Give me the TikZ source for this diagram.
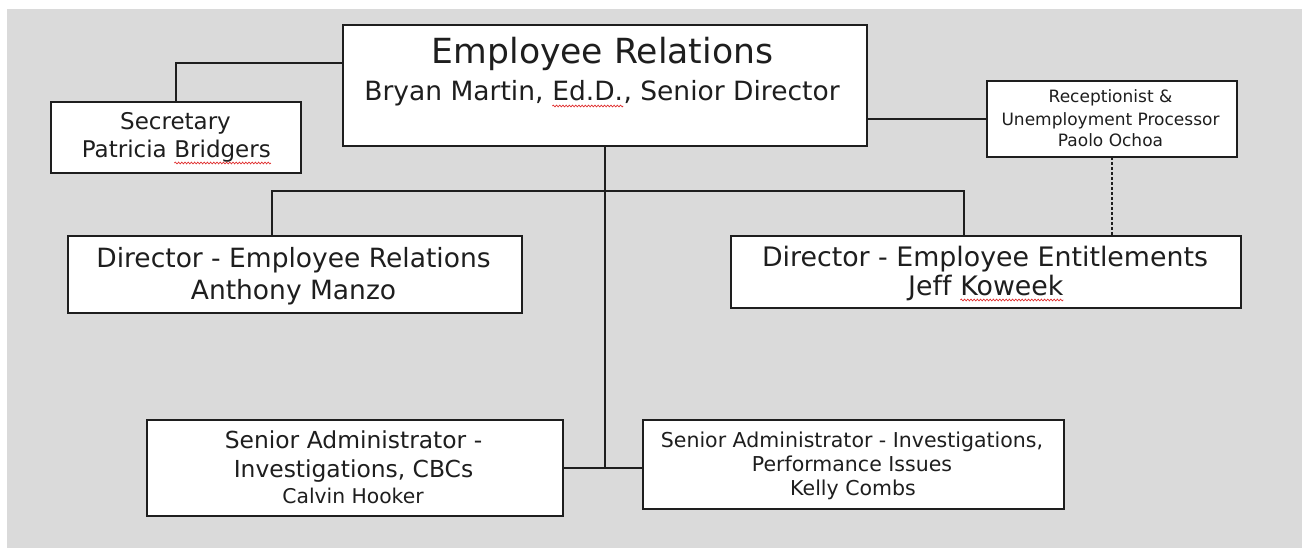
\documentclass[tikz,border=0pt]{standalone}
\usepackage{fontspec}
\setmainfont{DejaVu Sans}
\usetikzlibrary{decorations.pathmorphing}
\definecolor{bg}{HTML}{DADADA}
\definecolor{ink}{HTML}{1E1E1E}
\definecolor{spell}{HTML}{E03030}
\newcommand\spellmark[1]{\tikz[baseline=(sw.base)]{\node[inner sep=0pt,outer sep=0pt] (sw) {#1};\draw[spell,line width=0.7pt,decorate,decoration={snake,amplitude=0.9pt,segment length=3.2pt}] ([yshift=-5pt]sw.base west) -- ([yshift=-5pt]sw.base east);}}
\begin{document}
\begin{tikzpicture}[x=1pt,y=-1pt,
  box/.style={draw=ink,line width=1.8pt,fill=white,inner sep=0pt,outer sep=0pt},
  txt/.style={inner sep=0pt,outer sep=0pt,text=ink,anchor=base},
  wire/.style={draw=ink,line width=1.8pt},
  dotwire/.style={draw=ink,line width=1.3pt,dash pattern=on 3pt off 2pt}]
\useasboundingbox (0,0) rectangle (1302,548);
\fill[bg] (7,9) rectangle (1302,548);
% boxes
\node[box,minimum width=524pt,minimum height=121pt] (top) at (605,85.5) {};
\node[box,minimum width=250pt,minimum height=71pt] (sec) at (176,137.5) {};
\node[box,minimum width=250pt,minimum height=76pt] (rec) at (1112,119) {};
\node[box,minimum width=454pt,minimum height=77pt] (dER) at (295,274.5) {};
\node[box,minimum width=510pt,minimum height=72pt] (dEE) at (986,272) {};
\node[box,minimum width=416pt,minimum height=96pt] (cbc) at (355,468) {};
\node[box,minimum width=421pt,minimum height=89pt] (perf) at (853.5,464.5) {};
% texts
\node[txt,font=\fontsize{34.6}{40}\selectfont] (t1) at (602.5,64) {Employee Relations};
\node[txt,font=\fontsize{26.5}{30}\selectfont] (t2) at (602,101) {Bryan Martin, \spellmark{Ed.D.}, Senior Director};
\node[txt,font=\fontsize{23}{28}\selectfont] (s1) at (175.5,130) {Secretary};
\node[txt,font=\fontsize{23}{28}\selectfont] (s2) at (176.5,158) {Patricia \spellmark{Bridgers}};
\node[txt,font=\fontsize{17}{22}\selectfont] (r1) at (1110.5,103) {Receptionist \&};
\node[txt,font=\fontsize{17}{22}\selectfont] (r2) at (1110.5,126) {Unemployment Processor};
\node[txt,font=\fontsize{17}{22}\selectfont] (r3) at (1110.5,147) {Paolo Ochoa};
\node[txt,font=\fontsize{26.5}{30}\selectfont] (a1) at (293.5,268) {Director - Employee Relations};
\node[txt,font=\fontsize{26.5}{30}\selectfont] (a2) at (293.5,300) {Anthony Manzo};
\node[txt,font=\fontsize{26.8}{30}\selectfont] (b1) at (985,267) {Director - Employee Entitlements};
\node[txt,font=\fontsize{26.8}{30}\selectfont] (b2) at (986,295) {Jef\kern0pt f \spellmark{Koweek}};
\node[txt,font=\fontsize{23.4}{28}\selectfont] (c1) at (353.5,448) {Senior Administrator -};
\node[txt,font=\fontsize{23.4}{28}\selectfont] (c2) at (353.5,477) {Investigations, CBCs};
\node[txt,font=\fontsize{20.3}{24}\selectfont] (c3) at (353,503) {Calvin Hooker};
\node[txt,font=\fontsize{20.5}{25}\selectfont] (p1) at (852,447) {Senior Administrator - Investigations,};
\node[txt,font=\fontsize{20.5}{25}\selectfont] (p2) at (852,471) {Performance Issues};
\node[txt,font=\fontsize{20.5}{25}\selectfont] (p3) at (853,495) {Kelly Combs};
% connectors
\coordinate (busL) at (272,191);
\coordinate (busR) at (964,191);
\draw[wire] (top.west) ++(0,-22.5) -| (sec.north);
\draw[wire] (top.east |- rec.west) -- (rec.west);
\draw[dotwire] (rec.south) -- (rec.south |- dEE.north);
\draw[wire] (top.south) -- (top.south |- cbc.east);
\draw[wire] (busL |- dER.north) -- (busL) -- (busR) -- (busR |- dEE.north);
\draw[wire] (cbc.east) -- (perf.west |- cbc.east);
\end{tikzpicture}
\end{document}
